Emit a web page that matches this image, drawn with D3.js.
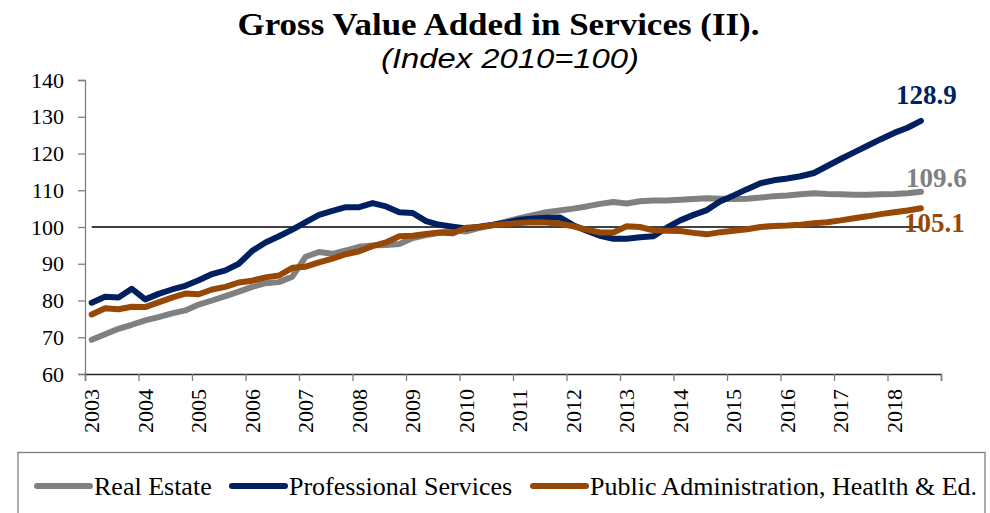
<!DOCTYPE html>
<html>
<head>
<meta charset="utf-8">
<script src="https://cdn.jsdelivr.net/npm/d3@7"></script>
<style>
  html, body { margin: 0; padding: 0; background: #ffffff; }
  svg { display: block; }
</style>
</head>
<body>
<svg id="chart" width="990" height="513"></svg>
<script>
// ---------------- DATA ----------------
const years = [2003, 2004, 2005, 2006, 2007, 2008, 2009, 2010, 2011, 2012, 2013, 2014, 2015, 2016, 2017, 2018];
const quarterNames = ["Q1", "Q2", "Q3", "Q4"];
const categories = years.flatMap(y => quarterNames.map(q => y + q));
const yTicks = [60, 70, 80, 90, 100, 110, 120, 130, 140];
const seriesNames = ["Real Estate", "Professional Services", "Public Administration, Heatlth & Ed."];

const realEstate = [
  69.3, 70.8, 72.3, 73.4, 74.6, 75.5, 76.5, 77.3, 78.9, 80.0, 81.2, 82.4,
  83.7, 84.7, 85.0, 86.5, 91.9, 93.2, 92.7, 93.6, 94.6, 95.0, 95.1, 95.4,
  97.0, 97.8, 98.4, 99.2, 98.8, 99.8, 100.5, 101.5, 102.4, 103.2, 104.0, 104.5,
  105.0, 105.6, 106.3, 106.8, 106.4, 107.0, 107.2, 107.2, 107.4, 107.6, 107.8, 107.7,
  107.6, 107.7, 108.0, 108.4, 108.6, 108.9, 109.2, 109.0, 108.9, 108.8, 108.8, 108.9,
  109.0, 109.2, 109.6
];
const professionalServices = [
  79.4, 81.0, 80.8, 83.2, 80.3, 81.8, 83.0, 84.0, 85.5, 87.2, 88.2, 90.0,
  93.5, 95.8, 97.5, 99.3, 101.3, 103.3, 104.4, 105.4, 105.4, 106.5, 105.6, 104.0,
  103.8, 101.6, 100.6, 100.1, 99.6, 100.1, 100.6, 101.2, 102.0, 102.3, 102.5, 102.6,
  100.5, 99.0, 97.6, 96.8, 96.8, 97.2, 97.5, 99.8, 101.8, 103.3, 104.6, 107.0,
  108.6, 110.3, 111.9, 112.7, 113.2, 113.8, 114.7, 116.6, 118.5, 120.3, 122.1, 123.9,
  125.6, 127.0, 128.9
];
const publicAdmin = [
  76.2, 77.9, 77.6, 78.3, 78.2, 79.5, 80.8, 81.9, 81.7, 83.0, 83.7, 84.9,
  85.4, 86.3, 86.8, 88.9, 89.2, 90.4, 91.4, 92.6, 93.4, 94.8, 95.8, 97.5,
  97.6, 98.1, 98.5, 98.3, 99.8, 100.0, 100.5, 100.8, 101.1, 101.3, 101.2, 100.9,
  100.2, 99.3, 98.5, 98.5, 100.2, 100.0, 99.1, 99.0, 98.9, 98.4, 98.0, 98.6,
  99.0, 99.4, 100.0, 100.3, 100.4, 100.6, 101.0, 101.3, 101.8, 102.4, 102.9, 103.5,
  104.0, 104.5, 105.1
];
const baseLevel = 100;

// ---------------- STYLE ----------------
const colors = ["#808080", "#002060", "#974706"];
const serif = "'Liberation Serif', 'Times New Roman', serif";

const svg = d3.select("#chart");
const plot = { left: 85, right: 941, top: 80, bottom: 374 };

const x = d3.scaleBand().domain(categories).range([plot.left, plot.right]).paddingInner(0).paddingOuter(0);
const cx = c => x(c) + x.bandwidth() / 2;
const y = d3.scaleLinear().domain([60, 140]).range([plot.bottom, plot.top]);
// linear scale over category boundaries for year tick marks
const xb = d3.scaleLinear().domain([0, categories.length]).range([plot.left, plot.right]);

// ---------------- TITLE ----------------
svg.append("text")
  .attr("x", 498.5).attr("y", 35)
  .attr("text-anchor", "middle")
  .attr("font-family", serif).attr("font-weight", "bold").attr("font-size", 32)
  .attr("textLength", 522).attr("lengthAdjust", "spacingAndGlyphs")
  .attr("fill", "#000")
  .text("Gross Value Added in Services (II).");
svg.append("text")
  .attr("x", 510).attr("y", 68)
  .attr("text-anchor", "middle")
  .attr("font-family", "'Liberation Sans', Arial, sans-serif").attr("font-style", "italic").attr("font-size", 28)
  .attr("textLength", 258).attr("lengthAdjust", "spacingAndGlyphs")
  .attr("fill", "#000")
  .text("(Index 2010=100)");

// ---------------- AXES ----------------
const yAxis = svg.append("g")
  .attr("transform", `translate(${plot.left},0)`)
  .call(d3.axisLeft(y).tickValues(yTicks).tickSize(7).tickPadding(14).tickFormat(d3.format("d")));
yAxis.select(".domain").attr("stroke", "#7f7f7f").attr("stroke-width", 1.3);
yAxis.selectAll(".tick line").attr("stroke", "#7f7f7f").attr("stroke-width", 1.3);
yAxis.selectAll(".tick text")
  .attr("font-family", serif).attr("font-size", 22).attr("fill", "#000");

const yearIdx = d3.range(0, categories.length + 1, 4);
const xAxis = svg.append("g")
  .attr("transform", `translate(0,${plot.bottom})`)
  .call(d3.axisBottom(xb).tickValues(yearIdx).tickSize(7).tickFormat(""));
xAxis.select(".domain").attr("stroke", "#262626").attr("stroke-width", 1.3);
xAxis.selectAll(".tick line").attr("stroke", "#7f7f7f").attr("stroke-width", 1.3);

// rotated year labels at the first quarter of each year
svg.append("g").selectAll("text")
  .data(years)
  .join("text")
  .attr("transform", d => `translate(${cx(d + "Q1")},389) rotate(-90)`)
  .attr("text-anchor", "end")
  .attr("dy", "0.35em")
  .attr("font-family", serif).attr("font-size", 22).attr("fill", "#000")
  .text(d => d);

// ---------------- REFERENCE LINE (100) ----------------
const nPts = realEstate.length;
const lastCat = categories[nPts - 1];
svg.append("line")
  .attr("x1", cx(categories[0])).attr("x2", cx(lastCat))
  .attr("y1", y(baseLevel)).attr("y2", y(baseLevel))
  .attr("stroke", "#000").attr("stroke-width", 1.5);

// ---------------- SERIES ----------------
const seriesData = [realEstate, professionalServices, publicAdmin];
const line = d3.line()
  .x((d, i) => cx(categories[i]))
  .y(d => y(d));

svg.append("g").selectAll("path")
  .data(seriesData)
  .join("path")
  .attr("d", d => line(d))
  .attr("fill", "none")
  .attr("stroke", (d, i) => colors[i])
  .attr("stroke-width", 6)
  .attr("stroke-linejoin", "round")
  .attr("stroke-linecap", "round");

// ---------------- END LABELS ----------------
const endOffsets = [[-15, -5], [-25, -17], [-17, 24]];
svg.append("g").selectAll("text")
  .data(seriesData)
  .join("text")
  .attr("x", (d, i) => cx(lastCat) + endOffsets[i][0])
  .attr("y", (d, i) => y(d[d.length - 1]) + endOffsets[i][1])
  .attr("font-family", serif).attr("font-weight", "bold").attr("font-size", 27)
  .attr("fill", (d, i) => colors[i])
  .text(d => d3.format(".1f")(d[d.length - 1]));

// ---------------- LEGEND ----------------
svg.append("rect")
  .attr("x", 18).attr("y", 452.5).attr("width", 967).attr("height", 80)
  .attr("fill", "none").attr("stroke", "#7f7f7f").attr("stroke-width", 1.3);

const legendX = [37, 232, 533];
const lg = svg.append("g").selectAll("g")
  .data(seriesNames)
  .join("g")
  .attr("transform", (d, i) => `translate(${legendX[i]},486)`);
lg.append("line")
  .attr("x1", 0).attr("x2", 53).attr("y1", 0).attr("y2", 0)
  .attr("stroke", (d, i) => colors[i]).attr("stroke-width", 6).attr("stroke-linecap", "round");
lg.append("text")
  .attr("x", 57).attr("y", 8.5)
  .attr("font-family", serif).attr("font-size", 26).attr("fill", "#000")
  .text(d => d);
</script>
</body>
</html>
